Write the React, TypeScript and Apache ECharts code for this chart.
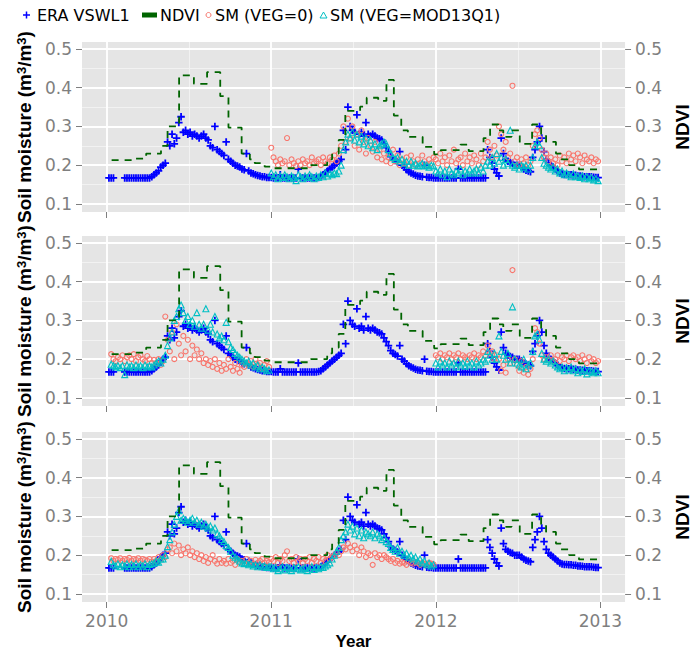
import { useEffect, useRef } from 'react';
import * as echarts from 'echarts';

// ---------- tick / grid values ----------
const YEARS = [2010, 2011, 2012, 2013];
const X_MINOR = [2010.5, 2011.5, 2012.5];
const Y_TICKS = [0.1, 0.2, 0.3, 0.4, 0.5];
const Y_MINOR = [0.15, 0.25, 0.35, 0.45];

// ---------- NDVI (16-day composites, start of each plateau) ----------
const NDVI_DATES = [2010.03, 2010.17, 2010.24, 2010.33, 2010.37, 2010.44, 2010.53, 2010.61, 2010.69, 2010.74, 2010.82, 2010.87, 2010.9, 2010.96,
  2011.0, 2011.24, 2011.34, 2011.37, 2011.41, 2011.45, 2011.54, 2011.58, 2011.65, 2011.7, 2011.745, 2011.79, 2011.83, 2011.92, 2011.99,
  2012.03, 2012.15, 2012.2, 2012.29, 2012.33, 2012.38, 2012.41, 2012.46, 2012.51, 2012.585, 2012.64, 2012.67, 2012.73, 2012.76, 2012.81, 2012.87, 2012.99];
const NDVI_VALUES = [0.213, 0.217, 0.23, 0.25, 0.3, 0.432, 0.41, 0.44, 0.378, 0.297, 0.23, 0.215, 0.205, 0.196,
  0.192, 0.2, 0.215, 0.23, 0.265, 0.34, 0.351, 0.374, 0.366, 0.42, 0.328, 0.29, 0.273, 0.247, 0.228,
  0.239, 0.253, 0.236, 0.27, 0.305, 0.29, 0.273, 0.29, 0.255, 0.305, 0.28, 0.26, 0.23, 0.215, 0.2, 0.189, 0.189];

// ---------- 5-day samples (73 per year) ----------
const ERA_2010 = [null, .167, .167, .167, null, null, null, null, .167, .167,
  .167, .167, .167, .167, .167, .167, .167, .167, .167, .167,
  .17, .175, .18, .185, .195, .2, .205, .26, .25, .28,
  .255, .27, .31, .325, .285, .29, .28, .285, .275, .28,
  .275, .27, .275, .28, .27, .265, .25, .245, .3, .24,
  .235, .23, .225, .26, .215, .21, .205, .2, .198, .195,
  .19, .188, .23, .185, .18, .178, .175, .173, .172, .17,
  .17, .168, .168];
const ERA_2011 = [.168, .167, .167, .167, .175, .167, .167, .167, .167, .167,
  .167, .167, .19, .167, .167, .167, .167, .167, .167, .167,
  .167, .168, .17, .175, .18, .185, .19, .195, .2, .205,
  .21, .215, .29, .24, .35, .3, .29, .285, .33, .28,
  .285, .275, .31, .28, .275, .28, .275, .27, .268, .265,
  .255, .245, .235, .222, .215, .212, .208, .235, .2, .195,
  .188, .183, .18, .177, .174, .172, .171, .17, .2, .169,
  .168, .168, .167];
const ERA_2012 = [.167, .167, .167, .167, .167, .167, .167, .167, .167, .167,
  .19, .167, .167, .167, .167, .167, .167, .167, .167, .167,
  .167, .167, .167, .24, .22, .205, .19, .18, .172, .27,
  .23, .215, .21, .207, .205, .2, .2, .2, .195, .19,
  .187, .185, .183, .22, .24, .26, .3, .27, .235, .215,
  .205, .2, .195, .19, .185, .18, .177, .176, .176, .175,
  .175, .174, .174, .172, .172, .171, .17, .17, .17, .17,
  .169, .168, .168];

// Panel 1 (top)
const SM0_P1_2011 = [.245, .22, .21, .2, .215, .205, .21, .27, .2, .215,
  .205, .198, .21, .2, .215, .205, .21, .2, .22, .205,
  .21, .215, .2, .22, .21, .205, .22, .215, .225, .21,
  .23, .25, .3, .26, .32, .27, .3, .25, .28, .24,
  .29, .26, .23, .27, .25, .235, .26, .22, .24, .215,
  .23, .21, .22, .205, .24, .21, .225, .2, .215, .205,
  .22, .2, .225, .21, .2, .215, .205, .225, .21, .2,
  .215, .205, .22];
const SMV_P1_2011 = [.18, .17, .175, .165, .172, .168, .175, .17, .165, .172,
  .168, .16, .175, .17, .165, .172, .168, .175, .17, .165,
  .172, .168, .175, .17, .18, .172, .178, .175, .18, .178,
  .185, .2, .24, .26, .28, .27, .285, .265, .28, .26,
  .275, .255, .27, .25, .265, .245, .255, .24, .25, .255,
  .26, .255, .24, .23, .22, .215, .22, .21, .215, .205,
  .21, .2, .21, .2, .205, .198, .2, .205, .198, .2,
  .195, .2, .198];
const SM0_P1_2012 = [.215, .205, .23, .21, .22, .2, .225, .21, .24, .205,
  .215, .22, .2, .23, .21, .22, .205, .225, .215, .2,
  .23, .21, .22, .26, .24, .22, .25, .225, .3, .28,
  .24, .26, .22, .23, .405, .21, .22, .2, .215, .205,
  .22, .2, .21, .25, .28, .29, .27, .24, .22, .23,
  .21, .22, .205, .215, .2, .225, .21, .22, .205, .23,
  .215, .225, .21, .23, .22, .205, .225, .215, .21, .22,
  .205, .215, .21];
const SMV_P1_2012 = [.185, .18, .19, .175, .185, .17, .19, .18, .175, .185,
  .18, .19, .175, .185, .18, .19, .18, .185, .19, .18,
  .195, .185, .2, .21, .2, .22, .205, .23, .21, .22,
  .2, .215, .205, .29, .2, .195, .2, .19, .2, .195,
  .2, .19, .2, .22, .25, .26, .25, .22, .205, .2,
  .195, .19, .195, .185, .19, .18, .185, .175, .18, .175,
  .17, .178, .17, .172, .168, .172, .165, .17, .165, .168,
  .162, .165, .16];

// Panel 2 (middle)
const SM0_P2_2010 = [null, null, .213, .2, .195, .205, .2, .21, .195, .205,
  .21, .2, .213, .195, .205, .21, .2, .195, .208, .2,
  .19, .198, .19, .2, .185, .195, .31, .25, .22, .27,
  .2, .29, .24, .21, .26, .22, .25, .2, .235, .21,
  .225, .2, .215, .19, .2, .185, .195, .18, .2, .175,
  .19, .17, .185, .175, .2, .18, .17, .19, .175, .165,
  .185, .18, .2, .185, .195, .18, .2, .185, .19, .175,
  .185, .195, .18];
const SMV_P2_2010 = [null, null, .187, .183, .18, .183, .178, .183, .16, .185,
  .18, .183, .178, .185, .18, .183, .178, .185, .18, .183,
  .18, .185, .19, .195, .19, .2, .21, .235, .255, .27,
  .3, .31, .33, .34, .32, .3, .31, .29, .3, .285,
  .32, .29, .28, .29, .33, .275, .29, .27, .31, .265,
  .255, .26, .25, .295, .245, .23, .225, .215, .21, .205,
  .2, .195, .19, .195, .185, .19, .18, .185, .175, .18,
  .175, .17, .172];
const SM0_P2_2012 = [.21, .205, .215, .2, .21, .205, .215, .2, .21, .205,
  .215, .2, .21, .205, .2, .21, .205, .215, .2, .21,
  .205, .22, .21, .235, .215, .22, .2, .21, .2, .17,
  .185, .165, .2, .19, .43, .2, .185, .17, .195, .165,
  .18, .16, .175, .2, .28, .27, .24, .21, .2, .205,
  .2, .21, .195, .2, .21, .195, .205, .2, .21, .195,
  .205, .21, .2, .205, .195, .21, .2, .19, .205, .195,
  .2, .19, .195];
const SMV_P2_2012 = [.19, .18, .195, .185, .19, .18, .195, .185, .19, .18,
  .195, .185, .19, .182, .195, .185, .19, .18, .195, .185,
  .19, .2, .195, .22, .21, .2, .215, .2, .26, .22,
  .21, .2, .215, .19, .335, .2, .19, .185, .18, .2,
  .175, .185, .19, .22, .26, .265, .25, .215, .2, .195,
  .2, .19, .195, .185, .18, .175, .18, .17, .178, .172,
  .18, .17, .175, .165, .172, .168, .175, .162, .17, .168,
  .165, .17, .165];

// Panel 3 (bottom)
const SM0_P3_2010 = [null, null, .192, .185, .19, .188, .192, .185, .19, .188,
  .193, .185, .19, .188, .192, .185, .19, .188, .185, .19,
  .183, .19, .185, .195, .19, .2, .195, .215, .22, .205,
  .23, .21, .225, .2, .215, .205, .22, .2, .21, .195,
  .205, .19, .2, .185, .195, .18, .19, .2, .185, .178,
  .19, .18, .185, .178, .19, .18, .185, .175, .19, .182,
  .185, .178, .19, .18, .185, .178, .188, .18, .185, .19,
  .18, .185, .182];
const SMV_P3_2010 = [null, null, .184, .175, .172, .178, .17, .175, .172, .178,
  .17, .176, .172, .178, .17, .175, .172, .178, .17, .176,
  .178, .18, .185, .182, .19, .19, .2, .222, .24, .26,
  .28, .3, .315, .29, .295, .29, .285, .29, .295, .285,
  .29, .28, .285, .275, .28, .27, .275, .265, .27, .255,
  .25, .24, .235, .225, .22, .21, .2, .195, .19, .185,
  .18, .178, .18, .175, .178, .172, .175, .17, .175, .17,
  .172, .168, .17];
const SM0_P3_2011 = [.19, .185, .195, .18, .19, .185, .2, .21, .185, .19,
  .18, .195, .185, .19, .18, .19, .185, .195, .18, .19,
  .185, .195, .18, .19, .185, .2, .19, .195, .2, .205,
  .2, .21, .22, .215, .23, .22, .21, .225, .215, .2,
  .22, .21, .195, .205, .2, .175, .205, .195, .2, .19,
  .2, .195, .19, .185, .19, .18, .185, .178, .182, .18,
  .175, .185, .18, .178, .182, .18, .175, .18, .178, .175,
  .18, .178, .176];
const SMV_P3_2011 = [.17, .165, .168, .16, .165, .17, .162, .168, .165, .16,
  .168, .165, .17, .162, .165, .168, .16, .165, .17, .163,
  .168, .165, .17, .168, .172, .175, .18, .19, .2, .21,
  .22, .24, .25, .26, .28, .265, .275, .255, .27, .25,
  .265, .245, .26, .255, .25, .26, .245, .255, .25, .24,
  .245, .235, .23, .22, .215, .21, .22, .205, .21, .2,
  .205, .195, .2, .19, .195, .185, .19, .18, .185, .175,
  .18, .172, .175];

const PANELS = [
  { sm0: [[2011, SM0_P1_2011], [2012, SM0_P1_2012]], smv: [[2011, SMV_P1_2011], [2012, SMV_P1_2012]] },
  { sm0: [[2010, SM0_P2_2010], [2012, SM0_P2_2012]], smv: [[2010, SMV_P2_2010], [2012, SMV_P2_2012]] },
  { sm0: [[2010, SM0_P3_2010], [2011, SM0_P3_2011]], smv: [[2010, SMV_P3_2010], [2011, SMV_P3_2011]] },
];

const C_ERA = '#0000FF';
const C_NDVI = '#006400';
const C_SM0 = '#F8766D';
const C_SMV = '#00BFC4';
const GREY_TXT = '#7F7F7F';
const PANEL_TOPS = [42, 236, 432];
const PANEL_H = 170;

function toPoints(year: number, vals: (number | null)[]) {
  const out: number[][] = [];
  vals.forEach((v, i) => {
    if (v != null) out.push([year + i / 73, v]);
  });
  return out;
}
function join(list: any[]) {
  return list.reduce((acc: number[][], [y, v]: any) => acc.concat(toPoints(y, v)), []);
}

const ERA_POINTS = join([[2010, ERA_2010], [2011, ERA_2011], [2012, ERA_2012]]);
const NDVI_POINTS = NDVI_DATES.map((d, i) => [d, NDVI_VALUES[i]]);

const PLUS = 'path://M3.8,0H6.2V3.8H10V6.2H6.2V10H3.8V6.2H0V3.8H3.8Z';
const TRI = 'path://M5,0L10,9H0Z';

function buildOption() {
  const grid = PANELS.map((_, i) => ({
    left: 82, right: 71, top: PANEL_TOPS[i], height: PANEL_H,
    show: true, backgroundColor: '#E5E5E5', borderWidth: 0,
  }));
  const xAxis = PANELS.map((_, i) => ({
    gridIndex: i, type: 'value', min: 2009.85, max: 2013.15,
    axisLine: { show: false },
    axisTick: { show: true, length: 6, customValues: YEARS, lineStyle: { color: GREY_TXT, width: 1 } },
    axisLabel: {
      show: i === 2, customValues: YEARS, formatter: (v: number) => String(v),
      color: GREY_TXT, fontSize: 17, fontFamily: 'DejaVu Sans', margin: 10,
    },
    splitLine: { show: false },
    name: i === 2 ? 'Year' : '',
    nameLocation: 'middle', nameGap: 31,
    nameTextStyle: { fontFamily: 'Liberation Sans', fontWeight: 'bold', fontSize: 17, color: '#000' },
  }));
  const yAxis: any[] = [];
  PANELS.forEach((_, i) => {
    const common = {
      gridIndex: i, type: 'value', min: 0.079, max: 0.518,
      axisLine: { show: false },
      axisTick: { show: true, length: 6, customValues: Y_TICKS, lineStyle: { color: GREY_TXT, width: 1 } },
      axisLabel: {
        customValues: Y_TICKS, formatter: (v: number) => v.toFixed(1),
        color: GREY_TXT, fontSize: 17, fontFamily: 'DejaVu Sans', margin: 10,
      },
      splitLine: { show: false },
      nameLocation: 'middle', nameRotate: 90,
    };
    yAxis.push({
      ...common, position: 'left',
      name: 'Soil moisture (m{sup|3}/m{sup|3})', nameGap: 46,
      nameTextStyle: {
        fontFamily: 'Liberation Sans', fontWeight: 'bold', fontSize: 19, color: '#000',
        rich: { sup: { fontFamily: 'Liberation Sans', fontWeight: 'bold', fontSize: 13, color: '#000', verticalAlign: 'top' } },
      },
    });
    yAxis.push({
      ...common, position: 'right',
      name: 'NDVI', nameGap: 37,
      nameTextStyle: { fontFamily: 'Liberation Sans', fontWeight: 'bold', fontSize: 19, color: '#000' },
    });
  });

  const gridLineData = [
    ...Y_MINOR.map((v) => ({ yAxis: v, lineStyle: { color: '#F2F2F2', width: 1, type: 'solid' } })),
    ...X_MINOR.map((v) => ({ xAxis: v, lineStyle: { color: '#F2F2F2', width: 1, type: 'solid' } })),
    ...Y_TICKS.map((v) => ({ yAxis: v, lineStyle: { color: '#FFFFFF', width: 1.8, type: 'solid' } })),
    ...YEARS.map((v) => ({ xAxis: v, lineStyle: { color: '#FFFFFF', width: 1.8, type: 'solid' } })),
  ];

  const series: any[] = [];
  PANELS.forEach((p, i) => {
    const ax = { xAxisIndex: i, yAxisIndex: 2 * i };
    series.push({
      type: 'line', ...ax, data: [], z: 1, silent: true,
      markLine: {
        z: 1, silent: true, symbol: ['none', 'none'], label: { show: false },
        lineStyle: { type: 'solid' }, emphasis: { disabled: true }, animation: false,
        data: gridLineData,
      },
    });
    series.push({
      type: 'scatter', name: 'ERA VSWL1', ...ax, z: 2, data: ERA_POINTS,
      symbol: PLUS, symbolSize: 7.5, itemStyle: { color: C_ERA, opacity: 1 },
      silent: true,
    });
    series.push({
      type: 'scatter', name: 'SM (VEG=0)', ...ax, z: 3, data: join(p.sm0),
      symbol: 'circle', symbolSize: 5,
      itemStyle: { color: 'rgba(0,0,0,0)', borderColor: C_SM0, borderWidth: 1.1, opacity: 1 },
      silent: true,
    });
    series.push({
      type: 'scatter', name: 'SM (VEG=MOD13Q1)', ...ax, z: 4, data: join(p.smv),
      symbol: TRI, symbolSize: 6,
      itemStyle: { color: 'rgba(0,0,0,0)', borderColor: C_SMV, borderWidth: 1.1, opacity: 1 },
      silent: true,
    });
    series.push({
      type: 'line', name: 'NDVI', ...ax, z: 5, data: NDVI_POINTS, step: 'end',
      showSymbol: false, symbol: 'none',
      lineStyle: { color: C_NDVI, width: 1.8, type: [7, 6] },
      silent: true,
    });
  });

  const legendFont = '16px "DejaVu Sans"';
  const ly = 15;
  const graphic = [
    { type: 'line', shape: { x1: 23, y1: ly, x2: 30, y2: ly }, style: { stroke: C_ERA, lineWidth: 1.5 } },
    { type: 'line', shape: { x1: 26.5, y1: ly - 3.5, x2: 26.5, y2: ly + 3.5 }, style: { stroke: C_ERA, lineWidth: 1.5 } },
    { type: 'text', x: 37, y: ly, style: { text: 'ERA VSWL1', font: legendFont, fill: '#000', verticalAlign: 'middle' } },
    { type: 'rect', shape: { x: 142, y: ly - 2.5, width: 15, height: 5 }, style: { fill: C_NDVI } },
    { type: 'text', x: 160, y: ly, style: { text: 'NDVI', font: legendFont, fill: '#000', verticalAlign: 'middle' } },
    { type: 'circle', shape: { cx: 208.5, cy: ly, r: 2.5 }, style: { fill: 'none', stroke: C_SM0, lineWidth: 1 } },
    { type: 'text', x: 215, y: ly, style: { text: 'SM (VEG=0)', font: legendFont, fill: '#000', verticalAlign: 'middle' } },
    { type: 'polygon', shape: { points: [[323.5, ly - 3], [327, ly + 3], [320, ly + 3]] }, style: { fill: 'none', stroke: C_SMV, lineWidth: 1 } },
    { type: 'text', x: 330, y: ly, style: { text: 'SM (VEG=MOD13Q1)', font: legendFont, fill: '#000', verticalAlign: 'middle' } },
  ];

  return { animation: false, backgroundColor: '#FFFFFF', grid, xAxis, yAxis, series, graphic };
}

export default function App() {
  const ref = useRef<HTMLDivElement>(null);
  useEffect(() => {
    if (!ref.current) return;
    const chart = echarts.init(ref.current, undefined, { renderer: 'svg' });
    chart.setOption(buildOption() as any);
    return () => chart.dispose();
  }, []);
  return <div ref={ref} style={{ position: 'absolute', left: 0, top: 0, width: 700, height: 654 }} />;
}
